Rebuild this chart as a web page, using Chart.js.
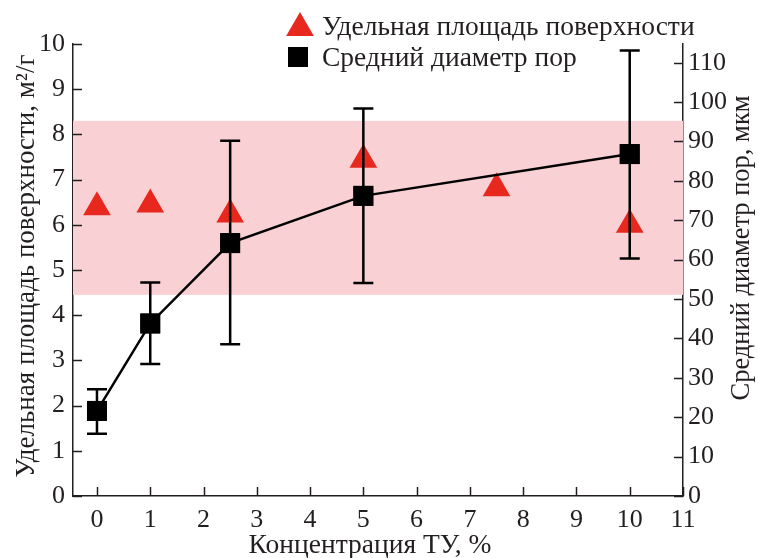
<!DOCTYPE html>
<html>
<head>
<meta charset="utf-8">
<script src="https://cdn.jsdelivr.net/npm/chart.js@4.4.1/dist/chart.umd.min.js"></script>
<style>
html,body{margin:0;padding:0;background:#fff;}
#wrap{width:758px;height:558px;}
</style>
</head>
<body>
<div id="wrap"><canvas id="c" width="758" height="558"></canvas></div>
<script>
// ---- data ----
const areaX = [0, 1, 2.5, 5, 7.5, 10];
const areaValues = [6.39, 6.45, 6.23, 7.44, 6.81, 6.0];
const diamX = [0, 1, 2.5, 5, 10];
const diamValues = [21.6, 43.8, 64.2, 76.2, 86.8];
const diamLow = [15.8, 33.5, 38.5, 54.1, 60.3];
const diamHigh = [27.1, 54.2, 90.2, 98.4, 113.1];
const bandRange = [4.45, 8.3];
const xTicks = [0, 1, 2, 3, 4, 5, 6, 7, 8, 9, 10, 11];
const yLeftTicks = [0, 1, 2, 3, 4, 5, 6, 7, 8, 9, 10];
const yRightTicks = [0, 10, 20, 30, 40, 50, 60, 70, 80, 90, 100, 110];
const labels = {
  area: 'Удельная площадь поверхности',
  diam: 'Средний диаметр пор',
  xTitle: 'Концентрация ТУ, %',
  yLeftTitle: 'Удельная площадь поверхности, м²/г',
  yRightTitle: 'Средний диаметр пор, мкм'
};

const INK = '#231f20';
const RED = '#e8281e';
const PINK = '#f9d1d4';
const FONT = '"Liberation Serif", "Times New Roman", serif';

const areaData = areaX.map((x, i) => ({x: x, y: areaValues[i]}));
const diamData = diamX.map((x, i) => ({x: x, y: diamValues[i]}));

const bandPlugin = {
  id: 'band',
  beforeDatasetsDraw(chart) {
    const {ctx, chartArea, scales} = chart;
    const yTop = scales.y.getPixelForValue(bandRange[1]);
    const yBot = scales.y.getPixelForValue(bandRange[0]);
    ctx.save();
    ctx.fillStyle = PINK;
    ctx.fillRect(chartArea.left, yTop, chartArea.right - chartArea.left, yBot - yTop);
    ctx.restore();
  }
};

const errPlugin = {
  id: 'errbars',
  afterDatasetsDraw(chart) {
    const {ctx, scales} = chart;
    ctx.save();
    ctx.strokeStyle = '#000';
    ctx.lineWidth = 2.5;
    diamX.forEach((x, i) => {
      const px = scales.x.getPixelForValue(x);
      const yl = scales.y1.getPixelForValue(diamLow[i]);
      const yh = scales.y1.getPixelForValue(diamHigh[i]);
      ctx.beginPath();
      ctx.moveTo(px, yl); ctx.lineTo(px, yh);
      ctx.moveTo(px - 10, yl); ctx.lineTo(px + 10, yl);
      ctx.moveTo(px - 10, yh); ctx.lineTo(px + 10, yh);
      ctx.stroke();
    });
    diamX.forEach((x, i) => {
      const px = scales.x.getPixelForValue(x);
      const py = scales.y1.getPixelForValue(diamValues[i]);
      ctx.fillStyle = '#000';
      ctx.fillRect(px - 10, py - 10, 20, 20);
    });
    ctx.restore();
  }
};

const decoPlugin = {
  id: 'deco',
  afterDraw(chart) {
    const {ctx, chartArea, scales} = chart;
    const L = 9;
    ctx.save();
    ctx.strokeStyle = INK;
    ctx.lineWidth = 1.5;
    ctx.beginPath();
    xTicks.forEach(v => {
      const p = Math.round(scales.x.getPixelForValue(v)) + 0.5;
      ctx.moveTo(p, chartArea.bottom); ctx.lineTo(p, chartArea.bottom - L);
    });
    yLeftTicks.forEach(v => {
      const p = Math.round(scales.y.getPixelForValue(v)) + 0.5;
      ctx.moveTo(chartArea.left, p); ctx.lineTo(chartArea.left + L, p);
    });
    yRightTicks.forEach(v => {
      const p = Math.round(scales.y1.getPixelForValue(v)) + 0.5;
      ctx.moveTo(chartArea.right, p); ctx.lineTo(chartArea.right - L, p);
    });
    ctx.stroke();

    // titles
    ctx.fillStyle = INK;
    ctx.textAlign = 'center';
    ctx.textBaseline = 'middle';
    ctx.font = '27.5px ' + FONT;
    ctx.fillText(labels.xTitle, 370, 546);
    ctx.save();
    ctx.translate(27, 266);
    ctx.rotate(-Math.PI / 2);
    ctx.font = '27px ' + FONT;
    ctx.fillText(labels.yLeftTitle, 0, 0);
    ctx.restore();
    ctx.save();
    ctx.translate(742, 248);
    ctx.rotate(-Math.PI / 2);
    ctx.font = '26.5px ' + FONT;
    ctx.fillText(labels.yRightTitle, 0, 0);
    ctx.restore();

    // legend
    ctx.font = '27.5px ' + FONT;
    ctx.textAlign = 'left';
    ctx.textBaseline = 'alphabetic';
    ctx.fillStyle = RED;
    const tx = 300, ty = 28, r = 16;
    ctx.beginPath();
    ctx.moveTo(tx, ty - r);
    ctx.lineTo(tx + r * Math.sqrt(3) / 2, ty + r / 2);
    ctx.lineTo(tx - r * Math.sqrt(3) / 2, ty + r / 2);
    ctx.closePath();
    ctx.fill();
    ctx.fillStyle = '#000';
    ctx.fillRect(288, 47, 20, 20);
    ctx.fillStyle = INK;
    ctx.fillText(labels.area, 322, 35);
    ctx.fillText(labels.diam, 322, 66);
    ctx.restore();
  }
};

const tickFont = {family: FONT, size: 26};

new Chart(document.getElementById('c'), {
  type: 'scatter',
  data: {
    datasets: [
      {
        label: labels.diam,
        data: diamData,
        yAxisID: 'y1',
        showLine: true,
        borderColor: '#000',
        borderWidth: 2.5,
        backgroundColor: '#000',
        pointStyle: 'rect',
        pointRadius: 14,
        pointBorderWidth: 0,
        pointHoverRadius: 14
      },
      {
        label: labels.area,
        data: areaData,
        yAxisID: 'y',
        showLine: false,
        backgroundColor: RED,
        borderColor: RED,
        pointStyle: 'triangle',
        pointRadius: 16,
        pointBorderWidth: 0,
        pointHoverRadius: 16
      }
    ]
  },
  options: {
    responsive: false,
    animation: false,
    events: [],
    layout: {padding: {top: 44, left: 0, right: 0, bottom: 0}},
    plugins: {legend: {display: false}, tooltip: {enabled: false}},
    scales: {
      x: {
        type: 'linear',
        min: -0.45,
        max: 11,
        grid: {display: false, drawTicks: false},
        border: {display: true, color: INK, width: 1.5},
        ticks: {font: tickFont, color: INK, padding: 9, maxRotation: 0, autoSkip: false},
        afterBuildTicks: s => { s.ticks = xTicks.map(v => ({value: v})); },
        afterFit: s => { s.height = 62; }
      },
      y: {
        type: 'linear',
        position: 'left',
        min: 0,
        max: 10,
        grid: {display: false, drawTicks: false},
        border: {display: true, color: INK, width: 1.5},
        ticks: {font: tickFont, color: INK, padding: 8, autoSkip: false},
        afterBuildTicks: s => { s.ticks = yLeftTicks.map(v => ({value: v})); },
        afterFit: s => { s.width = 73; }
      },
      y1: {
        type: 'linear',
        position: 'right',
        min: 0,
        max: 114.75,
        grid: {display: false, drawTicks: false},
        border: {display: true, color: INK, width: 1.5},
        ticks: {font: tickFont, color: INK, padding: 5, autoSkip: false},
        afterBuildTicks: s => { s.ticks = yRightTicks.map(v => ({value: v})); },
        afterFit: s => { s.width = 75; }
      }
    }
  },
  plugins: [bandPlugin, errPlugin, decoPlugin]
});
</script>
</body>
</html>
